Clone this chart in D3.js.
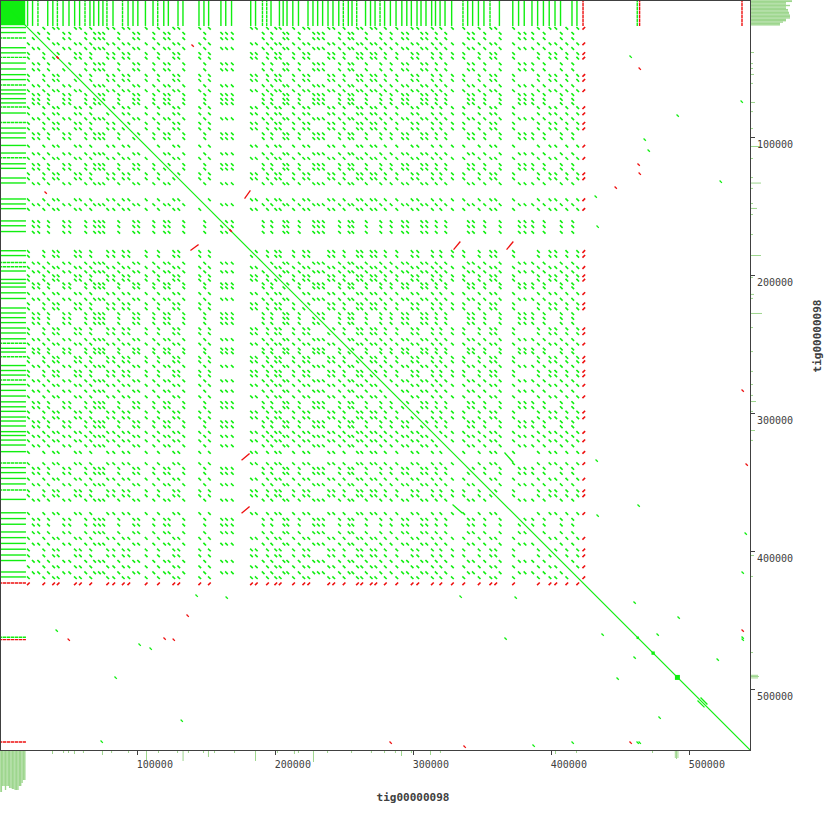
<!DOCTYPE html>
<html>
<head>
<meta charset="utf-8">
<script src="https://cdn.jsdelivr.net/npm/d3@7"></script>
<style>
  body { margin: 0; background: #fff; }
  svg text { font-family: "DejaVu Sans Mono", "Liberation Mono", monospace; fill: #404040; }
</style>
</head>
<body>
<div id="dot"></div>
<script>
// self alignment dot plot of one contig

var seqName = "tig00000098";
var seqLength = 544000;
var tickValues = [100000, 200000, 300000, 400000, 500000];

// tandem array at the start of the contig (bp)
var tandemEnd = 18800;

// repeat copies along the contig (start, bp)
var repeatStarts = [
  20500, 24100, 28000, 31700, 35100, 38800, 42100, 46200, 50500, 54600,
  58200, 62100, 65700, 68500, 72000, 75100, 78000, 82400, 86000, 89300,
  93300, 96900, 100400, 105900, 111400, 114800, 119200, 122500, 125900, 129500,
  133100, 144700, 148300, 151700, 160600, 164100, 168300, 182200, 185700, 190700,
  193800, 196900, 199800, 203000, 205700, 208500, 212700, 216800, 220100, 223700,
  227300, 230700, 234300, 238200, 241800, 246000, 249300, 252900, 255600, 259000,
  262100, 265400, 269000, 272300, 275900, 279200, 283400, 287500, 291700, 295300,
  298600, 302700, 305600, 309200, 313300, 316100, 319400, 323000, 327800, 336000,
  339400, 343000, 347200, 351200, 355600, 359200, 362400, 372100, 376300, 380400,
  386000, 390100, 394300, 398500, 402700, 406700, 410700, 415000, 418600, 423000
];
// repeat family of each copy, copies of one family align to each other
var repeatFamily = "abbabaabba" + "ababbbaaba" + "abbababbaa" + "bababbbaab" + "abaabbabaa" +
                   "bbbaababba" + "abaabababb" + "aabbababaa" + "bbabaababb" + "babaababaa";
// hit of each copy on the tandem array: T whole, d partial, - none
var tandemHit = "TTd-TTdTTT" + "TdTTTTdT-d" + "TTTTTdTT-T" + "TTTTTTTTTd" + "dT-TTTTT-T" +
                "TTTTTTdTTd" + "-TTTdTTTTT" + "TTTTTTTTTd" + "TTTTd-TTTT" + "TTTTTT-TTd";
// copies lying on the reverse strand
var reverseCopies = [423000];
var repeatUnit = 1100;

// copies outside the repeat block that still hit the tandem array
var extraStarts = [462300, 464000, 538200];
var extraStrand = ["+", "-", "-"];

// small tandem blocks on the main diagonal
var diagBlocks = [[461800, 463600], [472600, 475000], [489600, 493200]];

// segmental duplications [x1, y1, x2, y2, strand]
var segDups = [
  [366400, 328800, 372200, 335300, "+"],
  [506300, 508500, 510700, 512800, "+"],
  [178000, 144000, 181700, 138900, "-"],
  [329500, 181000, 333800, 175900, "-"],
  [367900, 181000, 372200, 175900, "-"]
];

// isolated hits [x, y, strand]
var scatterHits = [
  [457000, 41100, "+"], [463600, 49800, "-"], [491100, 83800, "+"], [467200, 101200, "+"],
  [470100, 109200, "+"], [462800, 119300, "-"], [463600, 125900, "-"], [446200, 136000, "-"],
  [522300, 131700, "+"], [537500, 73700, "+"], [459900, 476600, "+"], [491800, 447600, "+"],
  [520100, 478000, "+"], [540400, 386700, "+"], [538200, 415000, "+"], [538200, 283100, "-"],
  [541100, 336700, "-"], [538200, 457000, "-"], [538200, 462100, "+"], [538200, 463600, "+"],
  [431700, 142500, "+"], [433100, 164300, "+"], [432400, 333800, "+"], [433100, 373700, "+"],
  [462800, 366400, "+"], [459900, 436700, "+"], [41800, 41800, "-"], [139600, 33100, "-"],
  [167200, 167200, "-"]
];

// coverage histogram: tandem array in 1 kb bins, then single copies
var tandemDepth = [41, 41, 35, 35, 39, 35, 35, 37, 37, 38, 38, 39, 39, 39, 35, 35, 32, 29, 29];
var histStarts = [38200, 46200, 49800, 54100, 60600, 74400, 81000, 93300, 106300, 115000,
                  128800, 132800, 136700, 147600, 151200, 155600, 170100, 185300, 201200, 213500,
                  216400, 227300, 237500, 254900, 269300, 278800, 286700, 291100, 298300, 312100,
                  319300, 402700, 417900, 473000, 489500, 490400, 491400];
var histDepth = [3, 2, 2, 3, 2, 4, 2, 2, 9, 2,
                 2, 10, 2, 2, 6, 2, 2, 10, 2, 3,
                 2, 11, 2, 2, 2, 2, 2, 5, 2, 4,
                 2, 3, 2, 2, 7, 8, 7];

var fwdColor = "#10ee10", revColor = "#ee1010", histColor = "#9ed68e", axisColor = "#404040";

var svg = d3.select("#dot")
  .append("svg")
    .attr("width", 830)
    .attr("height", 830);

var x = d3.scaleLinear().domain([0, seqLength]).range([-0.7, 750]);
var y = d3.scaleLinear().domain([0, seqLength]).range([-0.7, 750]);
var depth = d3.scaleLinear().domain([0, 10]).range([0, 10]);

function strandOf(pos) { return reverseCopies.indexOf(pos) >= 0 ? "-" : "+"; }
function colorOf(s) { return s === "+" ? fwdColor : revColor; }

// histograms (right and bottom)
var hist = svg.append("g").attr("fill", histColor);
tandemDepth.forEach(function(d, i) {
  hist.append("rect").attr("x", 751).attr("y", y(i * 1000))
    .attr("width", depth(d)).attr("height", y(1000) - y(0));
  hist.append("rect").attr("y", 751).attr("x", x(i * 1000))
    .attr("height", depth(d)).attr("width", x(1000) - x(0));
});
histStarts.forEach(function(p, i) {
  hist.append("rect").attr("x", 751).attr("y", y(p)).attr("width", depth(histDepth[i])).attr("height", 1);
  hist.append("rect").attr("y", 751).attr("x", x(p)).attr("height", depth(histDepth[i])).attr("width", 1);
});

var marks = svg.append("g").attr("stroke-linecap", "square");

// tandem array block
marks.append("rect")
  .attr("x", x(0)).attr("y", y(0))
  .attr("width", x(tandemEnd) - x(0)).attr("height", y(tandemEnd) - y(0))
  .attr("fill", fwdColor);

// copies hitting the tandem array: vertical lines on top, horizontal on left
var stripHits = [];
repeatStarts.forEach(function(p, i) {
  if (tandemHit[i] !== "-") stripHits.push({pos: p, kind: tandemHit[i], strand: strandOf(p)});
});
extraStarts.forEach(function(p, i) { stripHits.push({pos: p, kind: "d", strand: extraStrand[i]}); });

stripHits.forEach(function(d) {
  var dash = d.kind === "d" ? "2,2" : null;
  marks.append("line")
    .attr("x1", x(d.pos)).attr("x2", x(d.pos))
    .attr("y1", y(0)).attr("y2", y(tandemEnd))
    .attr("stroke", colorOf(d.strand)).attr("stroke-width", 1.4).attr("stroke-dasharray", dash);
  marks.append("line")
    .attr("y1", y(d.pos)).attr("y2", y(d.pos))
    .attr("x1", x(0)).attr("x2", x(tandemEnd))
    .attr("stroke", colorOf(d.strand)).attr("stroke-width", 1.4).attr("stroke-dasharray", dash);
});

// copy against copy hits
var matches = [];
repeatStarts.forEach(function(a, i) {
  repeatStarts.forEach(function(b, j) {
    if (i !== j && repeatFamily[i] === repeatFamily[j])
      matches.push({x: a, y: b, strand: strandOf(a) === strandOf(b) ? "+" : "-"});
  });
});

marks.selectAll("line.hit")
  .data(matches)
  .enter()
  .append("line")
    .attr("class", "hit")
    .attr("x1", function(d) { return x(d.x); })
    .attr("x2", function(d) { return x(d.x + repeatUnit); })
    .attr("y1", function(d) { return d.strand === "+" ? y(d.y) : y(d.y + repeatUnit); })
    .attr("y2", function(d) { return d.strand === "+" ? y(d.y + repeatUnit) : y(d.y); })
    .attr("stroke", function(d) { return colorOf(d.strand); })
    .attr("stroke-width", 1.6);

// main diagonal
marks.append("line")
  .attr("x1", x(0)).attr("y1", y(0))
  .attr("x2", x(seqLength)).attr("y2", y(seqLength))
  .attr("stroke", fwdColor).attr("stroke-width", 1.2);

diagBlocks.forEach(function(b) {
  marks.append("rect")
    .attr("x", x(b[0])).attr("y", y(b[0]))
    .attr("width", x(b[1]) - x(b[0])).attr("height", y(b[1]) - y(b[0]))
    .attr("fill", fwdColor);
});

// segmental duplications, drawn on both sides of the diagonal
segDups.forEach(function(s) {
  [[s[0], s[1], s[2], s[3]], [s[1], s[0], s[3], s[2]]].forEach(function(c) {
    marks.append("line")
      .attr("x1", x(c[0])).attr("y1", y(c[1]))
      .attr("x2", x(c[2])).attr("y2", y(c[3]))
      .attr("stroke", colorOf(s[4])).attr("stroke-width", 1.3);
  });
});

// isolated hits, mirrored
scatterHits.forEach(function(h) {
  [[h[0], h[1]], [h[1], h[0]]].forEach(function(c) {
    marks.append("line")
      .attr("x1", x(c[0])).attr("y1", y(c[1]))
      .attr("x2", x(c[0] + 1000)).attr("y2", y(c[1] + 1000))
      .attr("stroke", colorOf(h[2])).attr("stroke-width", 1.3);
  });
});

// frame
svg.append("rect")
  .attr("x", 0.5).attr("y", 0.5)
  .attr("width", 750).attr("height", 750)
  .attr("fill", "none").attr("stroke", axisColor).attr("stroke-width", 1)
  .style("shape-rendering", "crispEdges");

// ticks and labels
var axes = svg.append("g").attr("stroke", axisColor).style("shape-rendering", "crispEdges");
tickValues.forEach(function(t) {
  axes.append("line").attr("x1", Math.round(x(t)) + 0.5).attr("x2", Math.round(x(t)) + 0.5)
    .attr("y1", 750).attr("y2", 755);
  axes.append("line").attr("y1", Math.round(y(t)) + 0.5).attr("y2", Math.round(y(t)) + 0.5)
    .attr("x1", 750).attr("x2", 755);
  svg.append("text").attr("x", x(t) - 0.5).attr("y", 768)
    .style("font-size", "10px").text(t);
  svg.append("text").attr("x", 757).attr("y", y(t) + 10.5)
    .style("font-size", "10px").text(t);
});

svg.append("text")
  .attr("x", 413).attr("y", 801)
  .attr("text-anchor", "middle")
  .style("font-size", "11px").style("font-weight", "bold")
  .text(seqName);

svg.append("text")
  .attr("transform", "translate(821,336) rotate(-90)")
  .attr("text-anchor", "middle")
  .style("font-size", "11px").style("font-weight", "bold")
  .text(seqName);
</script>
</body>
</html>
